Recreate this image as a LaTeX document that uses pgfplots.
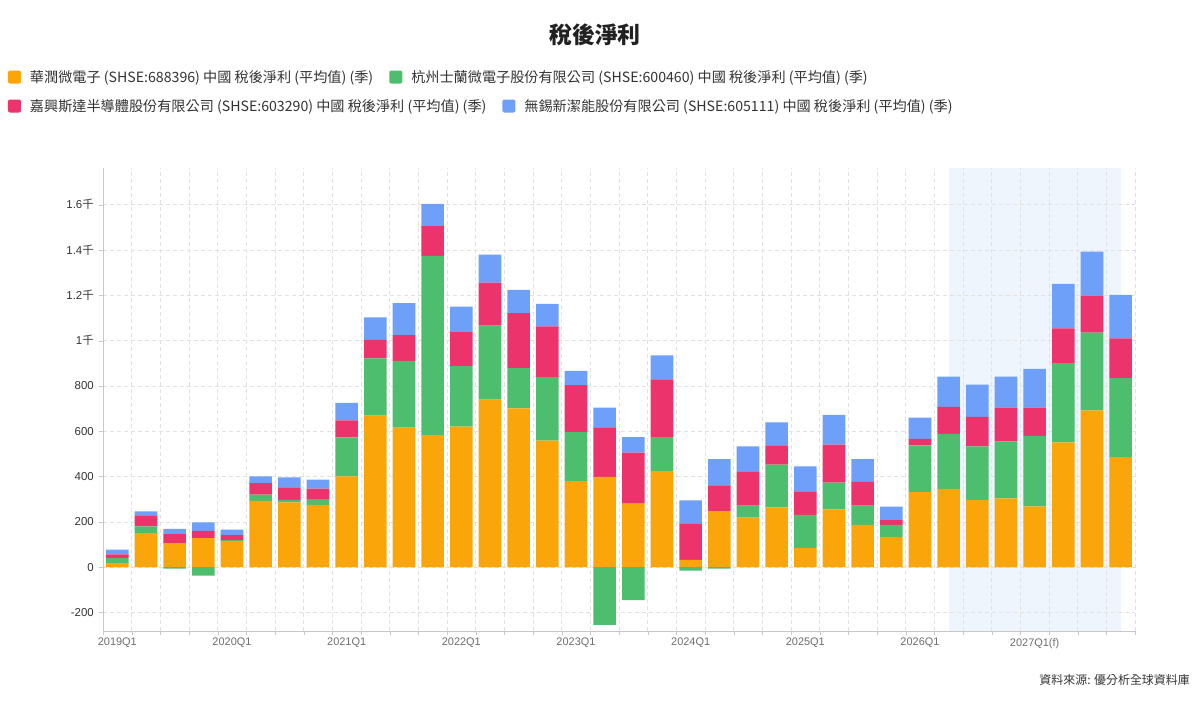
\documentclass[border=0pt]{standalone}
\usepackage{pgfplots}
\pgfplotsset{compat=1.18}
\usepackage{pgfplotstable}
\usepackage{fontspec}
\setmainfont{Liberation Sans}
\newfontfamily\cjk{Noto Sans CJK TC}
\definecolor{cOrange}{RGB}{250,166,10}
\definecolor{cGreen}{RGB}{76,190,110}
\definecolor{cPink}{RGB}{236,51,108}
\definecolor{cBlue}{RGB}{110,160,249}
\definecolor{cShade}{RGB}{238,245,253}
\definecolor{cGrid}{RGB}{226,226,226}
\definecolor{cAxis}{RGB}{200,200,200}
\definecolor{cText}{RGB}{51,51,51}
\definecolor{cXlab}{RGB}{110,110,110}

\pgfplotstableread{
x orange greenpos greenneg pink blue
0 18 22 0 16 21
1 150 30 0 48 18
2 106 0 -7 40 23
3 128 0 -37 32 37
4 116 3 0 22 25
5 293 27 0 51 30
6 286 11 0 55 44
7 275 25 0 46 40
8 401 172 0 75 77
9 669 253 0 81 99
10 616 294 0 114 141
11 583 791 0 131 99
12 620 267 0 150 113
13 739 327 0 190 124
14 701 178 0 242 103
15 558 281 0 224 99
16 380 216 0 207 63
17 398 0 -255 219 87
18 280 0 -146 225 69
19 424 150 0 255 106
20 32 0 -15 161 102
21 247 0 -7 114 116
22 218 54 0 148 113
23 264 188 0 86 101
24 85 146 0 103 111
25 255 118 0 168 131
26 187 85 0 104 101
27 134 53 0 21 59
28 331 207 0 28 94
29 345 243 0 119 134
30 296 237 0 130 143
31 303 252 0 149 137
32 268 311 0 125 171
33 551 350 0 153 196
34 692 343 0 164 194
35 486 348 0 176 192
}\data

\pgfplotsset{
  base/.style={scale only axis, width=1032bp, height=463bp,
    xmin=-0.5, xmax=35.5, ymin=-282, ymax=1762,
    at={(103bp,70bp)}, anchor=south west},
  sq/.style={legend image code/.code={\fill[##1, draw=none, rounded corners=2bp] (0bp,-6.5bp) rectangle (13bp,6.5bp);}},
  lg/.style={legend columns=2, legend cell align=left,
    legend style={anchor=west, draw=none, fill=none, inner sep=0pt, outer sep=0pt,
      font=\fontsize{14.2}{16}\selectfont, text=cText,
      nodes={inner sep=0pt},
      /tikz/every odd column/.append style={column sep=9bp},
      /tikz/every even column/.append style={column sep=16bp}}},
}

\begin{document}
\begin{tikzpicture}
\useasboundingbox (0,0) rectangle (1200bp,701bp);
\begin{axis}[base, hide axis]
\fill[cShade] (axis cs:29,-282) rectangle (axis cs:35,1762);
\end{axis}
\begin{axis}[base,
  ybar stacked, bar width=22.6bp,
  axis x line*=bottom, axis y line*=left,
  axis line style={-, draw=cAxis},
  xtick={-0.5,0.5,...,35.5}, xticklabels={},
  extra x ticks={0,4,...,32},
  extra x tick labels={2019Q1,2020Q1,2021Q1,2022Q1,2023Q1,2024Q1,2025Q1,2026Q1,2027Q1(f)},
  extra x tick style={major tick length=0pt, grid=none,
    xticklabel style={font=\fontsize{11}{13}\selectfont, text=cXlab, inner sep=0pt, anchor=north, yshift=-7bp}},
  ytick={-200,0,...,1600},
  yticklabels={-200,0,200,400,600,800,1\cjk{千},1.2\cjk{千},1.4\cjk{千},1.6\cjk{千}},
  yticklabel style={font=\fontsize{11.5}{14}\selectfont, text=cText, inner sep=0pt, anchor=east, xshift=-5bp},
  grid=major, major grid style={draw=cGrid, dash pattern=on 4bp off 3bp},
  tick align=outside, major tick length=4bp, tick style={draw=cAxis},
  lg, legend style={at={(-0.09205,1.1965)}},
]
\addplot[fill=cOrange, draw=none, sq] table[x=x, y=orange]{\data};
\addlegendentry{\cjk{華潤微電子} (SHSE:688396) \cjk{中國 稅後淨利} (\cjk{平均值}) (\cjk{季})}
\addplot[fill=cGreen, draw=none, sq] table[x=x, y=greenpos]{\data};
\addlegendentry{\cjk{杭州士蘭微電子股份有限公司} (SHSE:600460) \cjk{中國 稅後淨利} (\cjk{平均值}) (\cjk{季})}
\addplot[fill=cPink, draw=none] table[x=x, y=pink]{\data};
\addplot[fill=cBlue, draw=none] table[x=x, y=blue]{\data};
\end{axis}
\begin{axis}[base, hide axis, ybar, bar width=22.6bp,
  lg, legend style={at={(-0.09205,1.1339)}}]
\addplot[fill=cGreen, draw=none, bar shift=0pt, forget plot] table[x=x, y=greenneg]{\data};
\addlegendimage{sq, fill=cPink, draw=none}
\addlegendentry{\cjk{嘉興斯達半導體股份有限公司} (SHSE:603290) \cjk{中國 稅後淨利} (\cjk{平均值}) (\cjk{季})}
\addlegendimage{sq, fill=cBlue, draw=none}
\addlegendentry{\cjk{無錫新潔能股份有限公司} (SHSE:605111) \cjk{中國 稅後淨利} (\cjk{平均值}) (\cjk{季})}
\end{axis}
\node[font=\cjk\bfseries\fontsize{23}{27}\selectfont, text=black!87] at (595bp,666bp) {稅後淨利};
\node[anchor=east, font=\cjk\fontsize{12}{14}\selectfont, text=cText, inner sep=0pt] at (1190bp,21bp) {資料來源: 優分析全球資料庫};
\end{tikzpicture}
\end{document}
